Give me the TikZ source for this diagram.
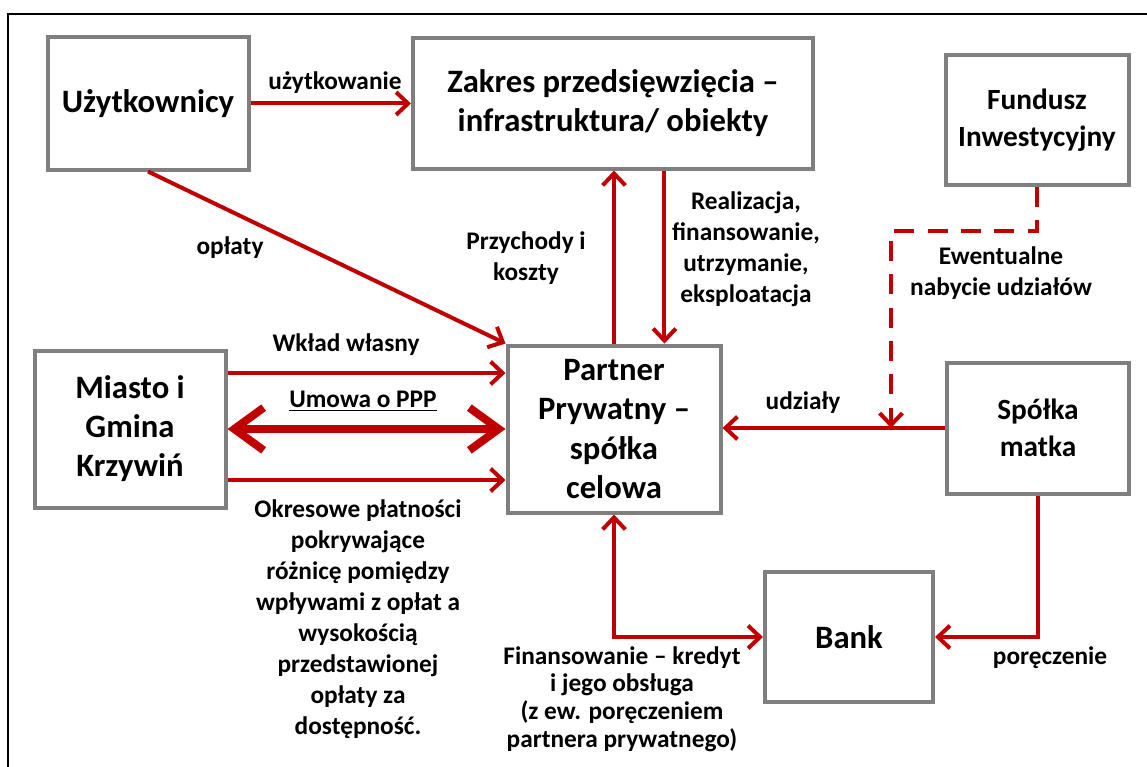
\documentclass[tikz,border=0pt]{standalone}
\usepackage{fontspec}
\setmainfont{Carlito}
\usetikzlibrary{arrows.meta}
\definecolor{rd}{HTML}{C00000}
\definecolor{gr}{HTML}{7F7F7F}
\begin{document}
\begin{tikzpicture}[x=0.75pt,y=-0.75pt,
  box/.style={draw=gr, line width=3pt, fill=white, inner sep=2pt, align=center,
    font=\fontsize{24.5}{29.3}\selectfont\bfseries},
  smallbox/.style={box, font=\fontsize{22}{27.5}\selectfont\bfseries},
  lbl/.style={align=center, font=\fontsize{19}{23.3}\selectfont\bfseries},
  lbls/.style={align=center, font=\fontsize{19}{20.8}\selectfont\bfseries},
  arr/.style={draw=rd, line width=3pt, -{Straight Barb[length=9pt,width=17pt]}},
  darr/.style={draw=rd, line width=3pt, {Straight Barb[length=9pt,width=17pt]}-{Straight Barb[length=9pt,width=17pt]}},
  thickarr/.style={draw=rd, line width=6pt, {Straight Barb[length=22pt,width=32pt]}-{Straight Barb[length=22pt,width=32pt]}},
  dasharr/.style={draw=rd, line width=3pt, dash pattern=on 15pt off 10pt, -{Straight Barb[length=9pt,width=17pt]}}
]
\useasboundingbox (0,0) rectangle (1147,767);
\draw[line width=1.6pt, black] (8,14) rectangle (1170,790);

% boxes
\node[box, minimum width=150.75pt, minimum height=99pt] (U) at (148,103.5) {Użytkownicy};
\node[box, minimum width=300pt, minimum height=97.5pt] (Z) at (613,103.5) {Zakres przedsięwzięcia –\\infrastruktura/ obiekty};
\node[smallbox, minimum width=137.25pt, minimum height=97.5pt] (F) at (1037,120) {Fundusz\\Inwestycyjny};
\node[box, minimum width=143.25pt, minimum height=117.75pt] (M) at (130,429) {Miasto i\\Gmina\\Krzywiń};
\node[box, minimum width=159.75pt, minimum height=125.25pt] (P) at (614,429) {Partner\\Prywatny –\\spółka\\celowa};
\node[smallbox, minimum width=136.5pt, minimum height=98.25pt] (S) at (1038,428) {Spółka\\matka};
\node[box, minimum width=126pt, minimum height=97.5pt] (B) at (849,637) {Bank};

\coordinate (dj) at (891,428);

% connectors
\draw[arr] (U.east) -- (Z.west);
\draw[arr] (U.south) -- (P.north west);
\draw[arr] (P.north) -- (P.north |- Z.south);
\draw[arr] ([xshift=38.6pt]Z.south) -- ([xshift=38.6pt]Z.south |- P.north);
\draw[arr] ([yshift=42pt]M.east) -- ([yshift=42pt]M.east -| P.west);
\draw[thickarr] (M.east) -- (P.west);
\draw[arr] ([yshift=-38.25pt]M.east) -- ([yshift=-38.25pt]M.east -| P.west);
\draw[arr] (S.west) -- (S.west -| P.east);
\draw[dasharr] (F.south) -- ++(0,44) -| (dj);
\draw[darr] (P.south) |- (B.west);
\draw[arr] (S.south) |- (B.east);

% labels
\node[lbl] (l1) at (335,83) {użytkowanie};
\node[lbl] (l2) at (230,248) {opłaty};
\node[lbl] (l3) at (526,258) {Przychody i\\koszty};
\node[lbl] (l4) at (746,249) {Realizacja,\\finansowanie,\\utrzymanie,\\eksploatacja};
\node[lbl] (l5) at (1001,273) {Ewentualne\\nabycie udziałów};
\node[lbl] (l6) at (346,345) {Wkład własny};
\node[lbl] (l7) at (363,401) {\underline{Umowa o PPP}};
\node[lbl] (l8) at (358,619) {Okresowe płatności\\pokrywające\\różnicę pomiędzy\\wpływami z opłat a\\wysokością\\przedstawionej\\opłaty za\\dostępność.};
\node[lbl] (l9) at (803,403) {udziały};
\node[lbls] (l10) at (622,699) {Finansowanie – kredyt\\i jego obsługa\\(z ew. poręczeniem\\partnera prywatnego)};
\node[lbl] (l11) at (1050,658) {poręczenie};
\end{tikzpicture}
\end{document}
